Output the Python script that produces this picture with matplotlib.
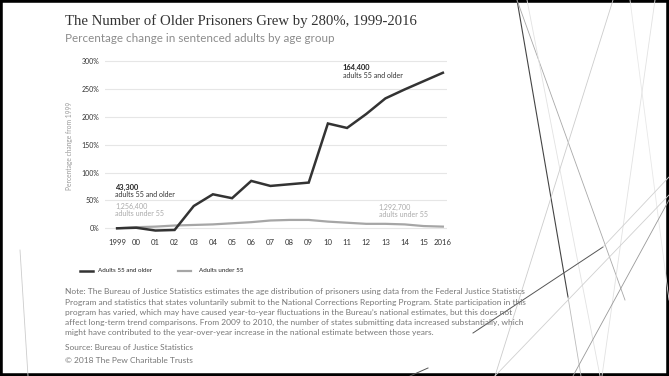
import numpy as np
import matplotlib.pyplot as plt
from matplotlib.lines import Line2D
from matplotlib.patches import Rectangle

years = list(range(1999, 2017))
tick_labels = ['1999', '00', '01', '02', '03', '04', '05', '06', '07', '08',
               '09', '10', '11', '12', '13', '14', '15', '2016']
older = [0, 1, -4, -3, 40, 61, 54, 85, 76, 79, 82, 188, 180, 205, 233, 249, 264, 279]
younger = [0, 2, 3, 5, 6, 7, 9, 11, 14, 15, 15, 12, 10, 8, 8, 7, 4, 3]
y_ticks = [0, 50, 100, 150, 200, 250, 300]

dark = '#333333'
light = '#a6a6a6'
W, H = 669, 376


def fx(px):
    return px / W


def fy(py):
    return 1 - py / H


fig = plt.figure(figsize=(6.69, 3.76), dpi=100)
fig.patch.set_facecolor('white')

# decorative slide lines (background art, not data)
deco = [
    ((517, 0), (568, 297), '#444444', 0.8),
    ((568, 297), (581, 376), '#bbbbbb', 0.6),
    ((517, 0), (625, 300), '#a8a8a8', 0.6),
    ((527, 0), (600, 376), '#e2e2e2', 0.6),
    ((613, 0), (495, 376), '#cccccc', 0.6),
    ((655, 0), (602, 376), '#e2e2e2', 0.6),
    ((630, 0), (669, 300), '#e8e8e8', 0.6),
    ((473, 333), (603, 247), '#555555', 0.7),
    ((603, 247), (669, 177), '#d0d0d0', 0.6),
    ((495, 376), (669, 195), '#d0d0d0', 0.6),
    ((573, 376), (669, 200), '#999999', 0.6),
    ((410, 376), (428, 368), '#555555', 0.7),
    ((20, 250), (28, 376), '#cccccc', 0.6),
]
for (x0, y0), (x1, y1), c, lw in deco:
    fig.add_artist(Line2D([fx(x0), fx(x1)], [fy(y0), fy(y1)],
                          color=c, lw=lw, transform=fig.transFigure))

fig.add_artist(Rectangle((0, 0), 1, 1, transform=fig.transFigure, fill=False,
                         edgecolor='black', lw=4))

ax = fig.add_axes([0.157, 0.378, 0.511, 0.467])
ax.plot(years, younger, color=light, lw=1.6, solid_joinstyle='miter')
ax.plot(years, older, color=dark, lw=1.8, solid_joinstyle='miter')
ax.set_xlim(1998.37, 2016.21)
ax.set_ylim(-10, 305)
ax.set_yticks(y_ticks)
ax.set_yticklabels([f'{v}%' for v in y_ticks], fontsize=5.0, family='Lato', color='#333333')
ax.set_xticks(years)
ax.set_xticklabels(tick_labels, fontsize=5.6, family='Lato', color='#333333')
ax.tick_params(length=0, pad=4)
ax.grid(axis='y', color='#e6e6e6', lw=0.8)
ax.set_axisbelow(True)
for s in ax.spines.values():
    s.set_visible(False)
ax.set_ylabel('Percentage change from 1999', fontsize=4.8, family='Lato', color='#999999',
              labelpad=6)

ax.text(1998.9, 74, '43,300', fontsize=5.4, family='Lato', weight='bold', color='#222222',
        va='center')
ax.text(1998.9, 60, 'adults 55 and older', fontsize=5.1, family='Lato', color='#333333',
        va='center')
ax.text(1998.9, 40, '1,256,400', fontsize=5.1, family='Lato', color='#aaaaaa', va='center')
ax.text(1998.9, 27, 'adults under 55', fontsize=5.1, family='Lato', color='#aaaaaa', va='center')
ax.text(2010.78, 289, '164,400', fontsize=5.4, family='Lato', weight='bold', color='#222222',
        va='center')
ax.text(2010.78, 274, 'adults 55 and older', fontsize=5.1, family='Lato', color='#333333',
        va='center')
ax.text(2012.66, 38, '1,292,700', fontsize=5.1, family='Lato', color='#aaaaaa', va='center')
ax.text(2012.66, 24, 'adults under 55', fontsize=5.1, family='Lato', color='#aaaaaa', va='center')

fig.text(fx(65), fy(21), 'The Number of Older Prisoners Grew by 280%, 1999-2016',
         fontsize=10.6, family='Liberation Serif', color='#333333', va='center')
fig.text(fx(65), fy(38), 'Percentage change in sentenced adults by age group',
         fontsize=8.4, family='Lato', color='#8c8c8c', va='center')

fig.add_artist(Line2D([fx(80), fx(93)], [fy(271)] * 2, color=dark, lw=1.8,
                      transform=fig.transFigure))
fig.text(fx(98), fy(271), 'Adults 55 and older', fontsize=4.5, family='Lato',
         color='#222222', va='center')
fig.add_artist(Line2D([fx(178), fx(191)], [fy(271)] * 2, color=light, lw=1.6,
                      transform=fig.transFigure))
fig.text(fx(199), fy(271), 'Adults under 55', fontsize=4.5, family='Lato',
         color='#222222', va='center')

note_lines = [
    "Note: The Bureau of Justice Statistics estimates the age distribution of prisoners using data from the Federal Justice Statistics",
    "Program and statistics that states voluntarily submit to the National Corrections Reporting Program. State participation in this",
    "program has varied, which may have caused year-to-year fluctuations in the Bureau\u2019s national estimates, but this does not",
    "affect long-term trend comparisons. From 2009 to 2010, the number of states submitting data increased substantially, which",
    "might have contributed to the year-over-year increase in the national estimate between those years.",
]
for i, line in enumerate(note_lines):
    fig.text(fx(65), fy(291.7 + i * 10.3), line, fontsize=6.0, family='Lato',
             color='#777777', va='center')
fig.text(fx(65), fy(347.7), 'Source: Bureau of Justice Statistics', fontsize=6.0,
         family='Lato', color='#777777', va='center')
fig.text(fx(65), fy(360.7), '\u00a9 2018 The Pew Charitable Trusts', fontsize=6.0,
         family='Lato', color='#777777', va='center')

fig.savefig('out.png', dpi=100)
